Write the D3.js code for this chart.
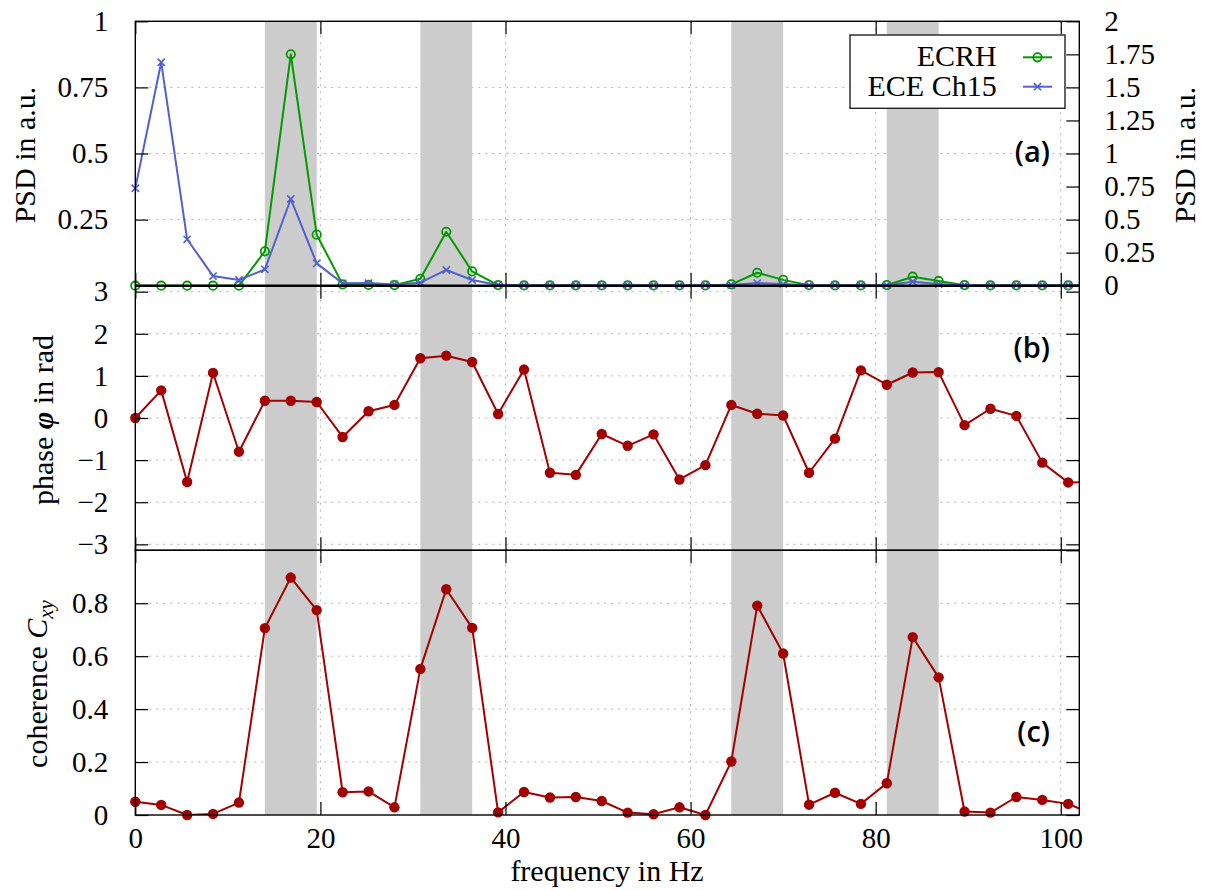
<!DOCTYPE html>
<html><head><meta charset="utf-8">
<script src="https://cdn.jsdelivr.net/npm/d3@7"></script>
<style>
body{margin:0;background:#fff}
</style></head><body>
<svg id="chart" width="1207" height="890"></svg>
<script>
// ---------- data ----------
const freqs = [0,2.8,5.6,8.4,11.2,14,16.8,19.6,22.4,25.2,28,30.8,33.6,36.4,39.2,42,44.8,47.6,50.4,53.2,56,58.8,61.6,64.4,67.2,70,72.8,75.6,78.4,81.2,84,86.8,89.6,92.4,95.2,98,100.8,103.6];
const psdECRH = [0,0,0,0,0,0.13,0.875,0.193,0.005,0.003,0.002,0.026,0.204,0.054,0.002,0.001,0.001,0.001,0.001,0.001,0.001,0.001,0.001,0.005,0.049,0.022,0.002,0.001,0.001,0.002,0.034,0.018,0.002,0.001,0.001,0.001,0.001,0.001];
const psdECE = [0.737,1.69,0.351,0.073,0.043,0.124,0.656,0.169,0.018,0.02,0.01,0.023,0.119,0.043,0.006,0.004,0.004,0.004,0.004,0.004,0.004,0.004,0.004,0.005,0.02,0.012,0.004,0.004,0.004,0.004,0.03,0.012,0.004,0.004,0.004,0.004,0.004,0.004];
const phase = [0,0.656,-1.52,1.07,-0.80,0.41,0.41,0.38,-0.45,0.16,0.31,1.42,1.48,1.33,0.095,1.15,-1.30,-1.35,-0.38,-0.66,-0.39,-1.46,-1.12,0.31,0.10,0.06,-1.30,-0.49,1.13,0.79,1.08,1.09,-0.17,0.22,0.05,-1.06,-1.53,-1.52];
const coherence = [0.050,0.038,0.0,0.004,0.047,0.706,0.897,0.774,0.086,0.089,0.029,0.552,0.853,0.707,0.010,0.087,0.066,0.068,0.053,0.009,0.003,0.029,0.0,0.202,0.791,0.610,0.039,0.084,0.042,0.120,0.672,0.520,0.013,0.009,0.068,0.057,0.042,0.0];
const bands = [[14,19.6],[30.8,36.4],[64.4,70],[81.2,86.8]];
const xTicks = [0,20,40,60,80,100];
const psdLeftTicks = [0.25,0.5,0.75,1];
const psdRightTicks = [0,0.25,0.5,0.75,1,1.25,1.5,1.75,2];
const phaseTicks = [-3,-2,-1,0,1,2,3];
const cohTicks = [0,0.2,0.4,0.6,0.8];
const seriesNames = ["ECRH","ECE Ch15"];

// ---------- layout ----------
const SERIF = "'Liberation Serif','Times New Roman',Times,'Nimbus Roman','DejaVu Serif',serif";
const L = 135.3, R = 1079.3;
const TICK_FS = 29, TITLE_FS = 30;
const cGreen = "#009a00", cBlue = "#5060d0", cRed = "#a30000";
const svg = d3.select("#chart");
const x = d3.scaleLinear().domain([0,102]).range([L,R]);

const panels = [
  {id:"a", top:21.3, bottom:285.7},
  {id:"b", top:285.7, bottom:550.3},
  {id:"c", top:550.3, bottom:815}
];
const yA = d3.scaleLinear().domain([0,1]).range([285.7,21.3]);
const yA2 = d3.scaleLinear().domain([0,2]).range([285.7,21.3]);
const yB = d3.scaleLinear().domain([-Math.PI,Math.PI]).range([550.3,285.7]);
const yC = d3.scaleLinear().domain([0,1]).range([815,550.3]);

const defs = svg.append("defs");
panels.forEach(p=>{
  defs.append("clipPath").attr("id","clip-"+p.id).append("rect")
    .attr("x",L).attr("y",p.top).attr("width",R-L).attr("height",p.bottom-p.top);
});

const gridG = svg.append("g");
const bandG = svg.append("g");
const dataG = svg.append("g");
const axisG = svg.append("g");

function gridFor(p, yScale, yGridVals){
  gridG.selectAll(null).data(xTicks.filter(t=>t>0)).enter().append("line")
    .attr("x1",d=>x(d)).attr("x2",d=>x(d)).attr("y1",p.top).attr("y2",p.bottom)
    .attr("stroke","#b4b4b4").attr("stroke-width",1).attr("stroke-dasharray","2,5");
  gridG.selectAll(null).data(yGridVals).enter().append("line")
    .attr("x1",L).attr("x2",R).attr("y1",d=>yScale(d)).attr("y2",d=>yScale(d))
    .attr("stroke","#b4b4b4").attr("stroke-width",1).attr("stroke-dasharray","2,5");
  bandG.selectAll(null).data(bands).enter().append("rect")
    .attr("x",d=>x(d[0])).attr("width",d=>x(d[1])-x(d[0]))
    .attr("y",p.top).attr("height",p.bottom-p.top).attr("fill","#cccccc");
}
gridFor(panels[0], yA, [0.25,0.5,0.75]);
gridFor(panels[1], yB, phaseTicks);
gridFor(panels[2], yC, [0.2,0.4,0.6,0.8]);

// ---------- data ----------
const idx = d3.range(freqs.length);
const inDom = i => freqs[i] <= 102;
function drawLine(pid, yScale, vals, color){
  const line = d3.line().x(i=>x(freqs[i])).y(i=>yScale(vals[i]));
  dataG.append("path").attr("d",line(idx)).attr("clip-path","url(#clip-"+pid+")")
    .attr("fill","none").attr("stroke",color).attr("stroke-width",2).attr("stroke-linejoin","round");
}
drawLine("a", yA, psdECRH, cGreen);
dataG.selectAll(null).data(idx.filter(inDom)).enter().append("circle")
  .attr("cx",i=>x(freqs[i])).attr("cy",i=>yA(psdECRH[i])).attr("r",4.2)
  .attr("fill","none").attr("stroke",cGreen).attr("stroke-width",1.8);
drawLine("a", yA2, psdECE, cBlue);
const xs = 3.6;
dataG.selectAll(null).data(idx.filter(inDom)).enter().append("path")
  .attr("d",i=>{const cx=x(freqs[i]), cy=yA2(psdECE[i]);
    return `M${cx-xs},${cy-xs}L${cx+xs},${cy+xs}M${cx-xs},${cy+xs}L${cx+xs},${cy-xs}`;})
  .attr("stroke",cBlue).attr("stroke-width",1.6).attr("fill","none");

drawLine("b", yB, phase, cRed);
dataG.selectAll(null).data(idx.filter(inDom)).enter().append("circle")
  .attr("cx",i=>x(freqs[i])).attr("cy",i=>yB(phase[i])).attr("r",5.2).attr("fill",cRed);
drawLine("c", yC, coherence, cRed);
dataG.selectAll(null).data(idx.filter(inDom)).enter().append("circle")
  .attr("cx",i=>x(freqs[i])).attr("cy",i=>yC(coherence[i])).attr("r",5.2).attr("fill",cRed);

// ---------- axes ----------
function styleAxis(g){
  g.select(".domain").remove();
  g.attr("font-family",null).attr("font-size",null);
  g.selectAll(".tick line").attr("stroke","#000").attr("stroke-width",1.2);
  g.selectAll("text").style("font-family",SERIF).style("font-size",TICK_FS+"px").attr("fill","#000");
}
const fmtMinus = d => (d<0? "\u2212"+Math.abs(d) : String(d));
const TL = 13;
axisG.append("g").attr("transform",`translate(${L},0)`)
  .call(d3.axisLeft(yA).tickValues(psdLeftTicks).tickSize(-TL).tickPadding(27).tickFormat(d=>String(d)))
  .call(styleAxis);
axisG.append("g").attr("transform",`translate(${R},0)`)
  .call(d3.axisRight(yA2).tickValues(psdRightTicks).tickSize(-TL).tickPadding(25).tickFormat(d=>String(d)))
  .call(styleAxis);
axisG.append("g").attr("transform",`translate(${L},0)`)
  .call(d3.axisLeft(yB).tickValues(phaseTicks).tickSize(-TL).tickPadding(27).tickFormat(fmtMinus))
  .call(styleAxis);
axisG.append("g").attr("transform",`translate(${R},0)`)
  .call(d3.axisRight(yB).tickValues(phaseTicks).tickSize(-TL).tickFormat(""))
  .call(styleAxis);
axisG.append("g").attr("transform",`translate(${L},0)`)
  .call(d3.axisLeft(yC).tickValues(cohTicks).tickSize(-TL).tickPadding(27).tickFormat(d=>String(d)))
  .call(styleAxis);
axisG.append("g").attr("transform",`translate(${R},0)`)
  .call(d3.axisRight(yC).tickValues(cohTicks.concat([1])).tickSize(-TL).tickFormat(""))
  .call(styleAxis);
panels.forEach((p,k)=>{
  axisG.append("g").attr("transform",`translate(0,${p.top})`)
    .call(d3.axisTop(x).tickValues(xTicks).tickSize(-TL).tickFormat(""))
    .call(styleAxis);
  const gb = axisG.append("g").attr("transform",`translate(0,${p.bottom})`)
    .call(d3.axisBottom(x).tickValues(xTicks).tickSize(-TL).tickFormat(k===2? (d=>String(d)) : ""))
    .call(styleAxis);
  if(k===2){ gb.selectAll("text").attr("dy",null).attr("y",33); }
});
panels.forEach(p=>{
  axisG.append("rect").attr("x",L).attr("y",p.top).attr("width",R-L).attr("height",p.bottom-p.top)
    .attr("fill","none").attr("stroke","#000").attr("stroke-width",1.4);
});
axisG.append("line").attr("x1",L).attr("x2",R).attr("y1",285.7).attr("y2",285.7)
  .attr("stroke","#000").attr("stroke-width",2.6);

// ---------- titles ----------
const T = svg.append("g");
function title(sel){ return sel.style("font-family",SERIF).style("font-size",TITLE_FS+"px").attr("fill","#000"); }
title(T.append("text")).attr("transform","translate(35,155) rotate(-90)").attr("text-anchor","middle").text("PSD in a.u.");
title(T.append("text")).attr("transform","translate(1195,155) rotate(-90)").attr("text-anchor","middle").text("PSD in a.u.");
const ph = title(T.append("text")).attr("transform","translate(53,420) rotate(-90)").attr("text-anchor","middle");
ph.append("tspan").text("phase ");
ph.append("tspan").style("font-style","italic").style("font-weight","bold").text("\u03C6");
ph.append("tspan").text(" in rad");
const co = title(T.append("text")).attr("transform","translate(47,684) rotate(-90)").attr("text-anchor","middle");
co.append("tspan").text("coherence ");
co.append("tspan").style("font-style","italic").text("C");
co.append("tspan").style("font-style","italic").style("font-size",(TITLE_FS*0.7)+"px").attr("dy","0.3em").text("xy");
title(T.append("text")).attr("x",607).attr("y",881).attr("text-anchor","middle").text("frequency in Hz");

// panel letters
[["(a)",162],["(b)",358],["(c)",742]].forEach(([t,yy])=>{
  svg.append("text").attr("x",1050).attr("y",yy).attr("text-anchor","end")
    .style("font-family","'Open Sans',sans-serif").style("font-size","29px").style("font-weight","600")
    .attr("fill","#000").text(t);
});

// ---------- legend ----------
const lg = svg.append("g");
lg.append("rect").attr("x",850).attr("y",35).attr("width",215).attr("height",73.3)
  .attr("fill","#fff").attr("stroke","#222").attr("stroke-width",1.4);
const rowsY = [57.3, 86.7];
seriesNames.forEach((n,k)=>{
  title(lg.append("text")).attr("x",996.7).attr("y",rowsY[k]+9).attr("text-anchor","end").text(n);
  const col = k===0? cGreen : cBlue;
  lg.append("line").attr("x1",1023).attr("x2",1052).attr("y1",rowsY[k]).attr("y2",rowsY[k])
    .attr("stroke",col).attr("stroke-width",2);
  const cx = 1037.5, cy = rowsY[k];
  if(k===0){
    lg.append("circle").attr("cx",cx).attr("cy",cy).attr("r",4.2).attr("fill","none")
      .attr("stroke",col).attr("stroke-width",1.8);
  } else {
    lg.append("path").attr("d",`M${cx-xs},${cy-xs}L${cx+xs},${cy+xs}M${cx-xs},${cy+xs}L${cx+xs},${cy-xs}`)
      .attr("stroke",col).attr("stroke-width",1.6);
  }
});
</script>
</body></html>
